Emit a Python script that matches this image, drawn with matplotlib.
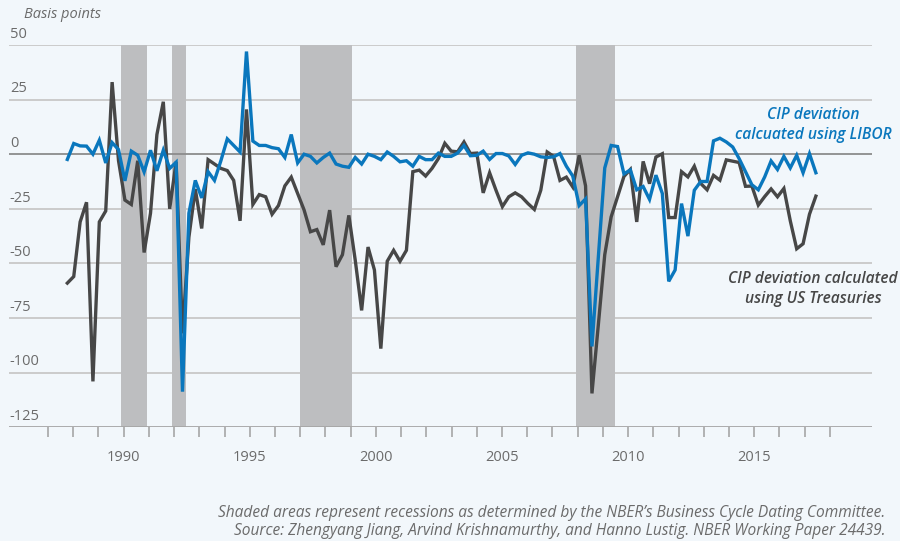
import numpy as np
import matplotlib
matplotlib.use("Agg")
import matplotlib.pyplot as plt
import matplotlib.transforms as mtransforms

plt.rcParams["font.family"] = ["Open Sans", "DejaVu Sans"]

# quarterly observations 1988Q1..2017Q2, positioned as they sit on the chart's year axis
dates = np.linspace(1987.765, 2017.444, 118)

libor = [
    -2.4, 4.9, 3.8, 3.7, 0, 6.4, -4, 5.3, 2.1, -12.2,
    1.4, -0.5, -8.1, 1.8, -7.6, 1.8, -6.5, -3.7, -108.7, -27,
    -12, -20, -8, -12, -3, 7, 4, 1, 47, 6,
    4, 4, 3, 2.5, -1.5, 9, -4, 0, -1, -4,
    -1.5, 0.5, -4.5, -5.5, -6, -1.5, -4.5, 0, -1, -2.5,
    1, -1, -3.5, -3, -5.5, -1, -2.5, -2.5, 0.5, -1,
    -1, 0.5, 4, -0.7, -0.5, 1.4, -2.4, 0.3, 0.3, -0.8,
    -4.7, -0.5, 0.6, 0, -1.2, -1.5, -1.2, 0.3, -5.5, -10,
    -23.5, -20.5, -88, -47, -6.3, 4, 3.5, -9, -7.2, -16.3,
    -14.8, -20.7, -9.6, -18, -58.2, -53, -22.6, -37.5, -16.5, -12.5,
    -12.5, 6.1, 7.3, 5.6, 3.3, -2, -8, -14, -16.3, -10.4,
    -3.1, -7, -1, -6.3, -0.5, -8.5, 0.2, -8.5,
]

treasuries = [
    -59, -56, -31, -22, -104, -31, -26, 33, -3, -21,
    -23, -3, -45, -27, 9, 24, -25, -3.5, -82, -38,
    -16, -34, -2.5, -4.5, -6.5, -7.5, -12, -30.5, 20.5, -23,
    -18.5, -19.5, -27.5, -23.5, -14.5, -10.5, -18, -25.5, -35.5, -34.5,
    -41.5, -25.6, -51.5, -46, -28, -48.5, -71.5, -42.5, -53, -89,
    -49, -44, -49, -44, -8, -7.3, -10, -6.5, -2, 5,
    1.4, 1.1, 5.6, 0.3, 0.5, -17.7, -8.5, -16.5, -24, -19.5,
    -17.7, -19.5, -22.6, -25.3, -16.5, 1, -1, -12, -10.5, -15,
    -0.5, -14.5, -109.5, -78, -46, -28.7, -19.5, -10.2, -7, -31,
    -3.3, -13.5, -1.3, 0.2, -29, -29, -8, -10.4, -5.5, -13.4,
    -16.3, -9.7, -11.9, -2.6, -3.2, -3.8, -14.7, -14.6, -23.3, -19.4,
    -15.9, -19.5, -15.7, -30.5, -43.3, -41, -27.5, -19.2,
]

recessions = [(1989.89, 1990.92), (1991.92, 1992.47), (1997.0, 1999.06), (2007.95, 2009.48)]
yticks = [50, 25, 0, -25, -50, -75, -100, -125]
xlabels = [1990, 1995, 2000, 2005, 2010, 2015]

bg = "#f2f7fb"
blue = "#0a77bd"
dark = "#474747"
txt = "#6b6b6b"

fig = plt.figure(figsize=(9, 5.41), dpi=100, facecolor=bg)
ax = fig.add_axes([0.01, 0.2102, 0.9586, 0.7067], facecolor=bg)
ax.set_xlim(1985.452, 2019.659)
ax.set_ylim(-125, 50)

for a, b in recessions:
    ax.axvspan(a, b, color="#bdbec0", lw=0, zorder=1)

for v in yticks:
    if v == 0:
        ax.axhline(v, color="#8c8c8c", lw=1.3, zorder=2)
    elif v == -125:
        ax.axhline(v, color="#a6a6a6", lw=1.3, zorder=2)
    else:
        ax.axhline(v, color="#c8c8c8", lw=1.3, zorder=0.5)

ax.plot(dates, treasuries, color=dark, lw=2.4, zorder=3, solid_joinstyle="miter")
ax.plot(dates, libor, color=blue, lw=2.4, zorder=4, solid_joinstyle="miter")

for s in ax.spines.values():
    s.set_visible(False)
ax.set_yticks([])
ax.set_xticks(np.arange(1987, 2019), minor=True)
ax.set_xticks(xlabels)
ax.set_xticklabels([str(x) for x in xlabels], fontsize=10.5, color=txt)
ax.tick_params(axis="x", which="both", length=7, width=1.2, color="#a6a6a6", pad=9)

trans = mtransforms.blended_transform_factory(ax.transAxes, ax.transData)
for v in yticks:
    ax.text(0.001, v + 1.5, str(v), transform=trans, ha="left", va="bottom",
            fontsize=10.5, color=txt)

fig.text(24 / 900, 1 - 14 / 541, "Basis points", ha="left", va="center",
         fontsize=10.5, style="italic", color=txt)

ax.text(2017.33, 13.2, "CIP deviation\ncalcuated using LIBOR", ha="center", va="center",
        fontsize=11.2, style="italic", weight="semibold", color=blue, linespacing=1.35)
ax.text(2017.33, -61.8, "CIP deviation calculated\nusing US Treasuries", ha="center", va="center",
        fontsize=11.2, style="italic", weight="semibold", color=dark, linespacing=1.35)

footer = ("Shaded areas represent recessions as determined by the NBER\u2019s Business Cycle Dating Committee.\n"
          "Source: Zhengyang Jiang, Arvind Krishnamurthy, and Hanno Lustig. NBER Working Paper 24439.")
fig.text(885 / 900, 1 - 522 / 541, footer, ha="right", va="center", fontsize=11.2,
         style="italic", color=txt, linespacing=1.18,
         family=["Liberation Sans Narrow", "Open Sans"])

fig.savefig("out.png", dpi=100, facecolor=bg)
